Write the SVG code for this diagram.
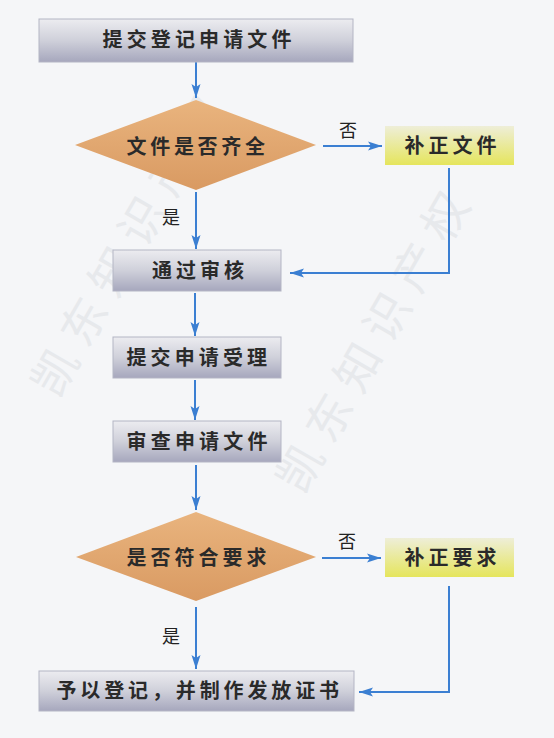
<svg xmlns="http://www.w3.org/2000/svg" width="554" height="738" viewBox="0 0 554 738">
<defs>
<linearGradient id="gBox" x1="0" y1="0" x2="0" y2="1">
<stop offset="0" stop-color="#ececf0"/>
<stop offset="0.5" stop-color="#cfd0da"/>
<stop offset="1" stop-color="#a6a7bd"/>
</linearGradient>
<linearGradient id="gDia" x1="0" y1="0" x2="0" y2="1">
<stop offset="0" stop-color="#e9b47e"/>
<stop offset="1" stop-color="#d99a62"/>
</linearGradient>
<linearGradient id="gYel" x1="0" y1="0" x2="0" y2="1">
<stop offset="0" stop-color="#eeeed8"/>
<stop offset="1" stop-color="#e5e55c"/>
</linearGradient>
<marker id="arr" markerWidth="15" markerHeight="11" refX="14" refY="5.5" orient="auto" markerUnits="userSpaceOnUse">
<path d="M0,1 L14,5.5 L0,10 L3,5.5 Z" fill="#3b7fd2"/>
</marker>
</defs>
<style>
.box{fill:url(#gBox);stroke:#b4b5c4;stroke-width:1}
.dia{fill:url(#gDia);stroke:none}
.yel{fill:url(#gYel);stroke:none}
.t{font-family:"Noto Sans CJK SC","Noto Sans CJK JP",sans-serif;font-size:20px;font-weight:bold;fill:#2a2a2a}
.lbl{font-family:"Noto Sans CJK SC","Noto Sans CJK JP",sans-serif;font-size:18px;fill:#222}
.wm{font-family:"Noto Sans CJK SC","Noto Sans CJK JP",sans-serif;font-size:46px;fill:#e7e9ec;letter-spacing:12px}
.c{fill:none;stroke:#3b7fd2;stroke-width:2}
</style>
<rect width="554" height="738" fill="#f5f6f8"/>
<g id="watermark">
<text class="wm" transform="translate(58,400) rotate(-60)">凯东知识产权</text>
<text class="wm" transform="translate(303,496) rotate(-60)">凯东知识产权</text>
</g>
<g id="connectors">
<path class="c" d="M196,62 V98" marker-end="url(#arr)"/>
<path class="c" d="M196,192 V249" marker-end="url(#arr)"/>
<path class="c" d="M323,146 H382" marker-end="url(#arr)"/>
<path class="c" d="M449,168 V273 H290" marker-end="url(#arr)"/>
<path class="c" d="M195,293 V336" marker-end="url(#arr)"/>
<path class="c" d="M195,380 V420" marker-end="url(#arr)"/>
<path class="c" d="M196,465 V510" marker-end="url(#arr)"/>
<path class="c" d="M322,558 H381" marker-end="url(#arr)"/>
<path class="c" d="M449,586 V692 H359" marker-end="url(#arr)"/>
<path class="c" d="M196,607 V669" marker-end="url(#arr)"/>
<text class="lbl" x="339" y="137">否</text>
<text class="lbl" x="162" y="224">是</text>
<text class="lbl" x="338" y="548">否</text>
<text class="lbl" x="162" y="643">是</text>
</g>
<g id="n1">
<rect class="box" x="39" y="19" width="314" height="43"/>
<text class="t" x="102.5" y="47" textLength="189" lengthAdjust="spacing">提交登记申请文件</text>
</g>
<g id="d1">
<polygon class="dia" points="196,100 316,145 196,190 75,145"/>
<text class="t" x="126.5" y="154" textLength="138.5" lengthAdjust="spacing">文件是否齐全</text>
</g>
<g id="y1">
<rect class="yel" x="385" y="126" width="129" height="39"/>
<text class="t" x="404.5" y="153" textLength="92" lengthAdjust="spacing">补正文件</text>
</g>
<g id="n2">
<rect class="box" x="113" y="250" width="168" height="41"/>
<text class="t" x="152" y="278" textLength="92" lengthAdjust="spacing">通过审核</text>
</g>
<g id="n3">
<rect class="box" x="113" y="337" width="168" height="41"/>
<text class="t" x="126.5" y="365" textLength="140.5" lengthAdjust="spacing">提交申请受理</text>
</g>
<g id="n4">
<rect class="box" x="113" y="421" width="168" height="41"/>
<text class="t" x="126.5" y="449" textLength="141" lengthAdjust="spacing">审查申请文件</text>
</g>
<g id="d2">
<polygon class="dia" points="196,512 316,557 196,601 76,557"/>
<text class="t" x="126.5" y="565" textLength="140" lengthAdjust="spacing">是否符合要求</text>
</g>
<g id="y2">
<rect class="yel" x="385" y="538" width="129" height="39"/>
<text class="t" x="404.5" y="565" textLength="92" lengthAdjust="spacing">补正要求</text>
</g>
<g id="n5">
<rect class="box" x="39" y="671" width="315" height="40"/>
<text class="t" x="56.5" y="698" textLength="282.5" lengthAdjust="spacing">予以登记，并制作发放证书</text>
</g>
</svg>
